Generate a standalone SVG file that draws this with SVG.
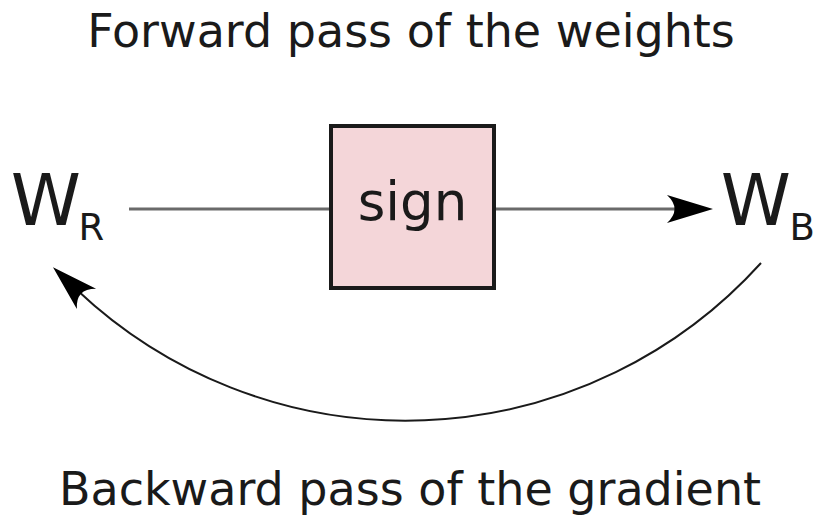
<svg xmlns="http://www.w3.org/2000/svg" width="819" height="516" viewBox="0 0 819 516">
<style>
text{font-family:"DejaVu Sans","Liberation Sans",sans-serif;fill:#1a1a1a}
.lbl{font-size:46px}
.w{font-size:71px}
.sub{font-size:37px}
.line{fill:none;stroke:#6a6a6a;stroke-width:3}
.arc{fill:none;stroke:#1a1a1a;stroke-width:2}
</style>
<defs>
<marker id="ah" markerUnits="userSpaceOnUse" markerWidth="60" markerHeight="40" viewBox="-50 -20 60 40" refX="-33" refY="0" orient="auto" overflow="visible">
<path d="M0,0 L-46,-14 Q-31,0 -46,14 Z" fill="#000"/>
</marker>
</defs>
<rect width="819" height="516" fill="#fff"/>
<text class="lbl" x="411" y="47" text-anchor="middle">Forward pass of the weights</text>
<text class="lbl" x="410" y="505" text-anchor="middle">Backward pass of the gradient</text>
<g id="connectors">
<path class="line" d="M129,209 H331"/>
<path class="line" d="M494,209 H680" marker-end="url(#ah)"/>
<path class="arc" d="M761,263 A479,479 0 0 1 77,290" marker-end="url(#ah)"/>
</g>
<g id="sign">
<rect x="331" y="126" width="163" height="162" fill="#f4d6d9" stroke="#1a1a1a" stroke-width="4"/>
<text x="412.5" y="220" text-anchor="middle" font-size="53">sign</text>
</g>
<g id="WR">
<text class="w" x="10.7" y="225">W</text>
<text class="sub" x="78.4" y="240">R</text>
</g>
<g id="WB">
<text class="w" x="720.7" y="225">W</text>
<text class="sub" x="789.5" y="240">B</text>
</g>
</svg>
